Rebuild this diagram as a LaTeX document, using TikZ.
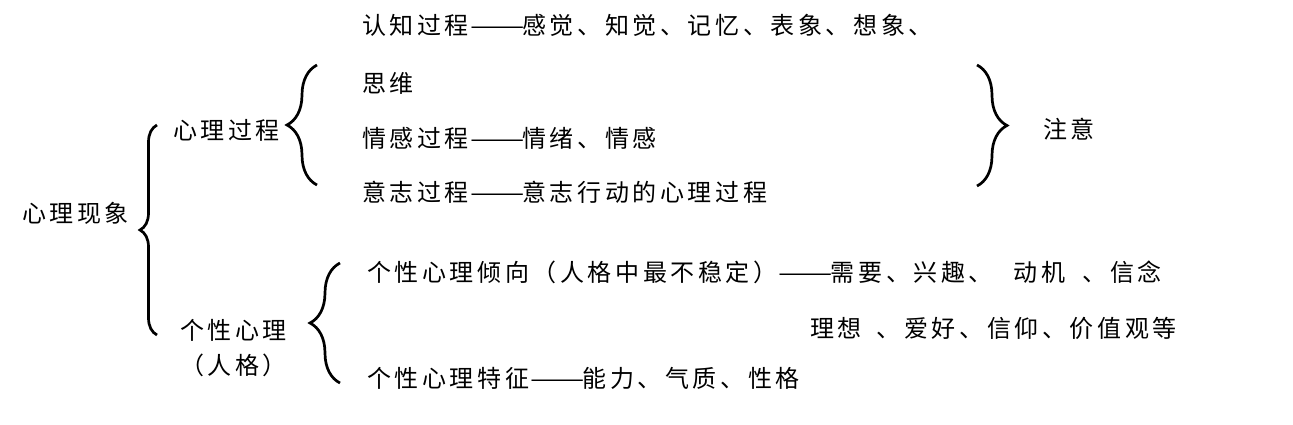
\documentclass[tikz,border=0pt]{standalone}
\usepackage{fontspec}
\usepackage{graphicx}
\usepackage{tikz}
\usetikzlibrary{decorations.pathreplacing, positioning}
\newfontfamily\cjk[LetterSpace=15]{Noto Sans CJK SC}
\newfontfamily\cjkdash{Noto Sans CJK SC}
\newcommand{\longdash}{{\cjkdash\fontsize{24}{28}\selectfont\kern1pt\scalebox{1.35}[1]{——}\kern-2pt}}
\tikzset{
    txt/.style={font=\cjk\fontsize{24}{28}\selectfont, anchor=west, inner sep=0pt},
    bracepath/.style={decorate, decoration={brace, amplitude=#1}, line width=2.7pt},
}

\begin{document}
\begin{tikzpicture}[x=1pt, y=1pt]
    \useasboundingbox (0,0) rectangle (1293,-424);
    \node[txt] (xianxiang) at (22,-213) {心理现象};
    \node[txt] (guocheng) at (173,-130) {心理过程};
    \node[txt] (gexing) at (180,-330) {个性心理};
    \node[txt, below=13pt of gexing] (renge) {（人格）};
    \node[txt] (renzhi) at (362,-25) {认知过程\longdash 感觉、知觉、记忆、表象、想象、};
    \node[txt] (siwei) at (362,-83) {思维};
    \node[txt] (qinggan) at (362,-138) {情感过程\longdash 情绪、情感};
    \node[txt] (yizhi) at (362,-192) {意志过程\longdash 意志行动的心理过程};
    \node[txt] (zhuyi) at (1043,-129) {注意};
    \node[txt] (qingxiang) at (367,-272) {个性心理倾向（人格中最不稳定）\longdash 需要、兴趣、 \kern12pt 动机 \kern8pt 、信念};
    \node[txt] (lixiang) at (810,-328) {理想 \kern6pt 、爱好、信仰、价值观等};
    \node[txt] (tezheng) at (367,-378) {个性心理特征\longdash 能力、气质、性格};
    % brace ends
    \coordinate (xxtop) at (157,-125);
    \coordinate (xxbot) at (157,-335);
    \coordinate (gctop) at (317,-65);
    \coordinate (gcbot) at (317,-185);
    \coordinate (zytop) at (977,-65);
    \coordinate (zybot) at (977,-186);
    \coordinate (gxtop) at (340,-263);
    \coordinate (gxbot) at (340,-383);
    \draw[bracepath=17pt] (xxbot) -- (xxtop);
    \draw[bracepath=30pt] (gcbot) -- (gctop);
    \draw[bracepath=30pt] (zytop) -- (zybot);
    \draw[bracepath=30pt] (gxbot) -- (gxtop);
\end{tikzpicture}
\end{document}
